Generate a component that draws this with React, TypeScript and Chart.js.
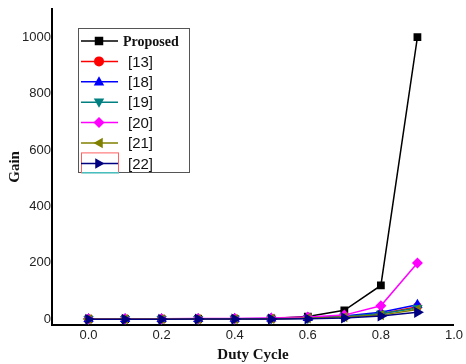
import React, { useEffect, useRef } from "react";
import { Chart, registerables } from "chart.js";

Chart.register(...registerables);

const dutyCycle = [0.0, 0.1, 0.2, 0.3, 0.4, 0.5, 0.6, 0.7, 0.8, 0.9];
const proposed = [1, 1, 1, 2, 2, 3, 10, 32, 120, 1000];
const ref13 = [1, 1, 1, 1, 2, 2, 5, 10, 20, 45];
const ref18 = [1, 1, 1, 1, 2, 3, 5, 12, 25, 52];
const ref19 = [1, 1, 1, 1, 2, 2, 4, 10, 20, 40];
const ref20 = [2, 2, 2, 3, 3, 5, 8, 15, 48, 200];
const ref21 = [1, 1, 1, 1, 1, 2, 4, 8, 15, 35];
const ref22 = [0, 0, 0, 1, 1, 1, 2, 5, 12, 25];
const xTicks = [0.0, 0.2, 0.4, 0.6, 0.8, 1.0];
const yTicks = [0, 200, 400, 600, 800, 1000];

const seriesDefs = [
  { label: "Proposed", data: proposed, color: "#000000", style: "rect", rot: 0, bold: true, r: 5.5 },
  { label: "[13]", data: ref13, color: "#FF0000", style: "circle", rot: 0, bold: false, r: 4.5 },
  { label: "[18]", data: ref18, color: "#0000FF", style: "triangle", rot: 0, bold: false, r: 6 },
  { label: "[19]", data: ref19, color: "#008080", style: "triangle", rot: 180, bold: false, r: 6 },
  { label: "[20]", data: ref20, color: "#FF00FF", style: "rectRot", rot: 0, bold: false, r: 5.5 },
  { label: "[21]", data: ref21, color: "#808000", style: "triangle", rot: -90, bold: false, r: 6 },
  { label: "[22]", data: ref22, color: "#000080", style: "triangle", rot: 90, bold: false, r: 6.5 },
];

function drawMarker(ctx: CanvasRenderingContext2D, style: string, rot: number, x: number, y: number, r: number, color: string) {
  ctx.save();
  ctx.translate(x, y);
  ctx.rotate((rot * Math.PI) / 180);
  ctx.fillStyle = color;
  ctx.beginPath();
  if (style === "rect") {
    ctx.rect(-r * 0.85, -r * 0.85, r * 1.7, r * 1.7);
  } else if (style === "circle") {
    ctx.arc(0, 0, r, 0, Math.PI * 2);
  } else if (style === "rectRot") {
    ctx.moveTo(0, -r * 1.1);
    ctx.lineTo(r * 1.1, 0);
    ctx.lineTo(0, r * 1.1);
    ctx.lineTo(-r * 1.1, 0);
    ctx.closePath();
  } else {
    ctx.moveTo(0, -r * 1.1);
    ctx.lineTo(r * 1.05, r * 0.75);
    ctx.lineTo(-r * 1.05, r * 0.75);
    ctx.closePath();
  }
  ctx.fill();
  ctx.restore();
}

const boxLegend = {
  id: "boxLegend",
  afterDraw(chart: any) {
    const ctx: CanvasRenderingContext2D = chart.ctx;
    const bx = 78, by = 28, bw = 111, bh = 144;
    ctx.save();
    ctx.fillStyle = "#ffffff";
    ctx.fillRect(bx, by, bw, bh);
    ctx.strokeStyle = "#555555";
    ctx.lineWidth = 1;
    ctx.strokeRect(bx + 0.5, by + 0.5, bw, bh);
    seriesDefs.forEach((s, i) => {
      const y = 41 + i * 20.4;
      if (i === seriesDefs.length - 1) {
        ctx.strokeStyle = "#FF6060";
        ctx.lineWidth = 1;
        ctx.strokeRect(81.5, y - 10.5, 37, 20);
        ctx.strokeStyle = "#00FFFF";
        ctx.beginPath();
        ctx.moveTo(82, y + 9.5);
        ctx.lineTo(119, y + 9.5);
        ctx.stroke();
      }
      ctx.strokeStyle = s.color;
      ctx.lineWidth = 1.5;
      ctx.beginPath();
      ctx.moveTo(81, y);
      ctx.lineTo(118, y);
      ctx.stroke();
      drawMarker(ctx, s.style, s.rot, 99, y, 5, s.color);
      ctx.fillStyle = "#111111";
      ctx.textBaseline = "middle";
      ctx.textAlign = "left";
      if (s.bold) {
        ctx.font = "bold 14px 'Liberation Serif', serif";
        ctx.fillText(s.label, 123, y + 1);
      } else {
        ctx.font = "15px 'Liberation Sans', Arial, sans-serif";
        ctx.fillText(s.label, 128, y + 1);
      }
    });
    ctx.restore();
  },
};

export default function App() {
  const canvasRef = useRef<HTMLCanvasElement | null>(null);

  useEffect(() => {
    document.body.style.margin = "0";
    const canvas = canvasRef.current;
    if (!canvas) return;
    const chart = new Chart(canvas, {
      type: "line",
      data: {
        datasets: seriesDefs.map((s, i) => ({
          label: s.label,
          data: dutyCycle.map((x, j) => ({ x, y: s.data[j] })),
          borderColor: s.color,
          backgroundColor: s.color,
          borderWidth: 1.5,
          pointStyle: s.style as any,
          rotation: s.rot,
          pointRadius: s.r,
          pointBorderWidth: 0,
          pointHoverRadius: s.r,
          tension: 0,
          order: seriesDefs.length - i,
        })),
      },
      options: {
        animation: false,
        responsive: false,
        layout: { padding: { top: 5, right: 8, left: 0, bottom: 0 } },
        plugins: { legend: { display: false }, tooltip: { enabled: false } },
        scales: {
          x: {
            type: "linear",
            min: -0.1,
            max: 1.0,
            afterBuildTicks: (scale: any) => {
              scale.ticks = xTicks.map((v) => ({ value: v }));
            },
            afterFit: (scale: any) => {
              scale.height = 39;
            },
            grid: { display: false, drawTicks: false },
            border: { display: true, color: "#000000", width: 2 },
            ticks: {
              color: "#222222",
              padding: 3,
              font: { family: "'Liberation Sans', Arial, sans-serif", size: 13 },
              callback: (v: any) => Number(v).toFixed(1),
              maxRotation: 0,
            },
            title: {
              display: true,
              text: "Duty Cycle",
              color: "#111111",
              font: { family: "'Liberation Serif', serif", size: 15, weight: "bold" },
              padding: { top: 0, bottom: 0 },
            },
          },
          y: {
            type: "linear",
            min: -20,
            max: 1100,
            afterBuildTicks: (scale: any) => {
              scale.ticks = yTicks.map((v) => ({ value: v }));
            },
            afterFit: (scale: any) => {
              scale.width = 52;
            },
            grid: { display: false, drawTicks: false },
            border: { display: true, color: "#000000", width: 2 },
            ticks: {
              color: "#222222",
              padding: 1,
              font: { family: "'Liberation Sans', Arial, sans-serif", size: 13 },
              callback: (v: any) => String(v),
            },
            title: {
              display: true,
              text: "Gain",
              color: "#111111",
              font: { family: "'Liberation Serif', serif", size: 15, weight: "bold" },
              padding: { top: 6, bottom: 0 },
            },
          },
        },
      },
      plugins: [boxLegend],
    });
    return () => chart.destroy();
  }, []);

  return (
    <div style={{ width: 466, height: 364, background: "#ffffff" }}>
      <canvas ref={canvasRef} width={466} height={364} style={{ width: 466, height: 364, display: "block" }} />
    </div>
  );
}
